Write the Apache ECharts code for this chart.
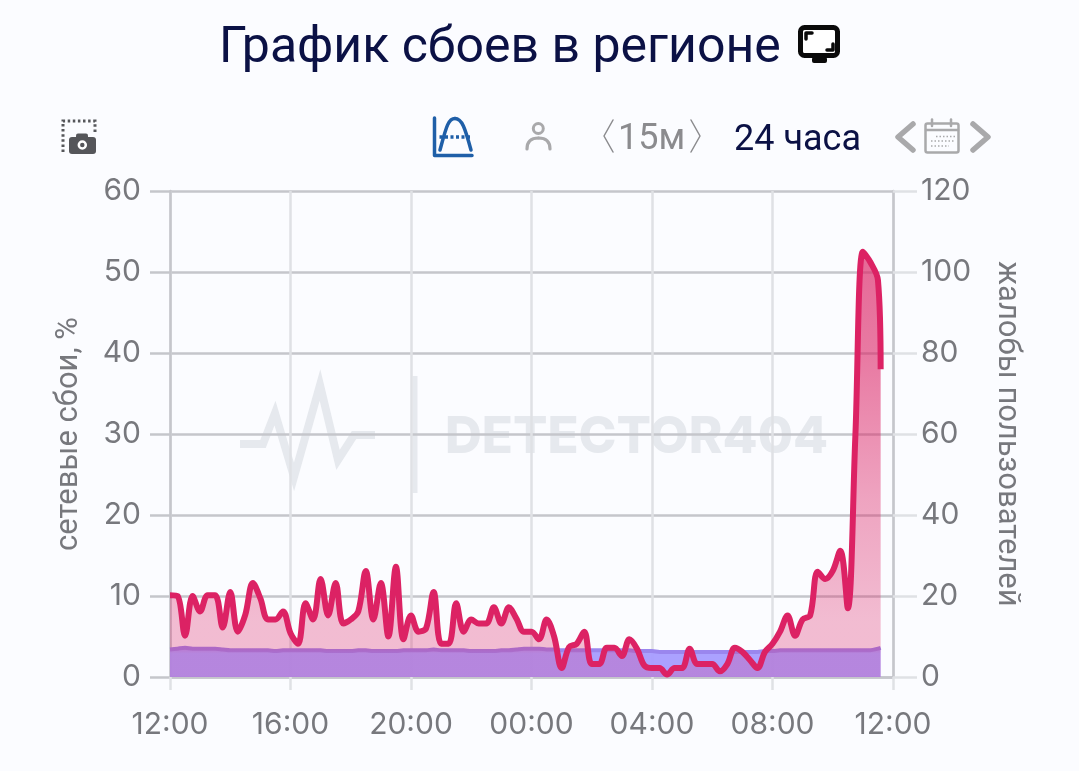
<!DOCTYPE html>
<html>
<head>
<meta charset="utf-8">
<style>
html,body{margin:0;padding:0;background:#fbfcff;}
#chartmain{width:1079px;height:771px;}
</style>
<script src="https://cdn.jsdelivr.net/npm/echarts@6/dist/echarts.min.js"></script>
</head>
<body>
<div id="chartmain"></div>
<script>
// подписи оси времени, 12:00 -> 12:00 через 4 часа
var tickLabels = ['12:00','16:00','20:00','00:00','04:00','08:00','12:00'];

// отсчеты идут каждые 15 минут от 12:00, последний чуть раньше (11:35)
var faults = [
  10.1,10.0,5.1,10.0,8.1,10.1,10.1,6.1,10.5,5.6,
  7.7,11.6,9.7,7.1,7.1,8.1,5.4,4.1,9.1,7.1,
  12.1,7.6,11.6,6.6,7.1,8.1,13.1,7.1,11.6,5.0,
  13.6,4.65,7.6,5.6,6.0,10.5,4.1,4.1,9.1,5.6,
  7.1,6.6,6.6,8.6,6.6,8.6,7.2,5.6,5.6,4.65,
  7.1,5.0,1.1,3.7,4.1,5.6,1.6,1.6,3.6,3.6,
  2.6,4.65,3.5,1.4,1.1,1.1,0.3,1.1,1.1,3.5,
  1.6,1.6,1.6,0.7,1.6,3.6,3.1,2.1,1.1,3.1,
  4.1,5.6,7.6,5.1,7.1,7.6,13.0,12.1,13.1,15.6,
  8.5,29.7,52.5,51.2,49.0,38.0
];
var reports = [
  3.4,3.5,3.6,3.5,3.5,3.5,3.5,3.4,3.3,3.3,
  3.3,3.3,3.3,3.3,3.2,3.3,3.3,3.3,3.3,3.3,
  3.3,3.2,3.2,3.2,3.2,3.3,3.3,3.2,3.2,3.2,
  3.2,3.3,3.3,3.3,3.3,3.4,3.3,3.3,3.3,3.3,
  3.2,3.2,3.2,3.2,3.3,3.3,3.4,3.5,3.5,3.5,
  3.4,3.4,3.3,3.3,3.3,3.3,3.3,3.3,3.3,3.3,
  3.3,3.3,3.2,3.2,3.2,3.1,3.1,3.1,3.1,3.1,
  3.1,3.1,3.1,3.1,3.1,3.1,3.1,3.1,3.1,3.2,
  3.2,3.3,3.3,3.3,3.3,3.3,3.3,3.3,3.3,3.3,
  3.3,3.3,3.3,3.3,3.5,3.6
];

var hours = [];
for(var i=0;i<95;i++){ hours.push(i*0.25); }
hours.push(23.59);

function pairs(values){
  return values.map(function(v,i){ return [hours[i],v]; });
}

var gridColor = '#c5c6cb';
var vGridColor = '#dfe1e5';
var labelColor = '#77787d';
var navy = '#0b1145';
var greyIcon = '#a9a9ab';
var blueIcon = '#1f5fa8';
var darkIcon = '#55565a';
var markColor = '#e6e9ee';

function line(points,color,width,dash){
  return {
    type:'polyline',
    shape:{points:points},
    style:{fill:null,stroke:color,lineWidth:width,lineDash:dash||null,lineCap:'round',lineJoin:'round'}
  };
}
function dots(points,color,width,dash){
  return {
    type:'polyline',
    shape:{points:points},
    style:{fill:null,stroke:color,lineWidth:width,lineDash:dash,lineCap:'butt'}
  };
}
function curve(x1,y1,cx1,cy1,cx2,cy2,x2,y2,color,width){
  return {
    type:'bezierCurve',
    shape:{x1:x1,y1:y1,x2:x2,y2:y2,cpx1:cx1,cpy1:cy1,cpx2:cx2,cpy2:cy2},
    style:{fill:null,stroke:color,lineWidth:width,lineCap:'round'}
  };
}
function label(text,x,y,size,color,family){
  return {
    type:'text',
    x:x,y:y,
    style:{text:text,fontSize:size,fill:color,fontFamily:family||'Roboto',textVerticalAlign:'middle'}
  };
}

// все мелкие значки над графиком
var decorations = [
  // водяной знак
  {type:'polyline',z:-5,shape:{points:[[240,444],[263,444],[275,413],[294,477],[320,385],[338,460],[354,435],[375,435]]},
    style:{fill:null,stroke:markColor,lineWidth:8,lineJoin:'miter'}},
  {type:'polyline',z:-5,shape:{points:[[415,376],[415,493]]},style:{fill:null,stroke:markColor,lineWidth:5}},
  {type:'text',z:-5,x:445,y:438,style:{text:'DETECTOR404',fontSize:51,fontWeight:800,fill:markColor,fontFamily:'Inter',textVerticalAlign:'middle'}},
  // монитор у заголовка
  {type:'rect',shape:{x:800.5,y:27.5,width:37,height:28,r:4},style:{fill:'#fff',stroke:'#0a0a0a',lineWidth:5}},
  {type:'rect',shape:{x:812,y:57,width:15,height:6,r:2},style:{fill:'#0a0a0a'}},
  line([[806,39],[806,33],[812,33]],'#0a0a0a',3.5),
  line([[833,44],[833,50],[827,50]],'#0a0a0a',3.5),
  // снимок экрана
  dots([[63,152],[63,121],[95,121],[95,132]],darkIcon,3,[2.5,2.6]),
  {type:'rect',shape:{x:69,y:137,width:27,height:17,r:3},style:{fill:darkIcon}},
  {type:'rect',shape:{x:76,y:133.5,width:12,height:6,r:2},style:{fill:darkIcon}},
  {type:'circle',shape:{cx:82.3,cy:145,r:3.5},style:{fill:darkIcon,stroke:'#fff',lineWidth:2.5}},
  // значок кривой
  line([[434.5,118],[434.5,155.5],[472,155.5]],blueIcon,3.5),
  curve(440,150,446,128,448,118.5,455,118.5,blueIcon,3.5),
  curve(455,118.5,462,118.5,465,128,471,150,blueIcon,3.5),
  dots([[439.5,137],[472,137]],blueIcon,3.5,[3,2.5]),
  // пользователь
  {type:'circle',shape:{cx:538.3,cy:128.5,r:5},style:{fill:null,stroke:greyIcon,lineWidth:3}},
  curve(527,149,527,141,532,138,538.5,138,greyIcon,3.2),
  curve(538.5,138,545,138,550,141,550,149,greyIcon,3.2),
  // шаг 15м
  line([[613,120],[604,136],[613,152]],'#8b8b8e',1.5),
  line([[691,120],[700,136],[691,152]],'#8b8b8e',1.5),
  label('15м',618,140,36,'#8b8b8e'),
  label('24 часа',734,141,36,navy),
  // календарь и стрелки
  line([[913,124],[898,137],[913,150]],greyIcon,5.5),
  line([[973,124],[988,137],[973,150]],greyIcon,5.5),
  {type:'rect',shape:{x:925.5,y:123.5,width:33,height:29,r:2},style:{fill:'#fbfcff',stroke:greyIcon,lineWidth:2.5}},
  line([[926,130],[958,130]],greyIcon,2.5),
  line([[932,119.5],[932,126]],greyIcon,2.5),
  line([[951,119.5],[951,126]],greyIcon,2.5),
  dots([[936,136.5],[955,136.5]],greyIcon,1.5,[1.5,2]),
  dots([[931,141],[955,141]],greyIcon,1.5,[1.5,2]),
  dots([[931,146],[949,146]],greyIcon,1.5,[1.5,2])
];

var myChart = echarts.init(document.getElementById('chartmain'));
var option = {
  backgroundColor:'#fbfcff',
  animation:false,
  title:{
    text:'График сбоев в регионе',
    left:214,
    top:19,
    textStyle:{fontFamily:'Roboto',fontWeight:400,fontSize:50,color:navy}
  },
  grid:{left:170,right:186,top:191,bottom:94},
  xAxis:{
    type:'value',
    min:0,
    max:24,
    interval:4,
    axisLine:{lineStyle:{color:gridColor,width:2.5}},
    axisTick:{show:true,length:13,lineStyle:{color:vGridColor,width:2.5}},
    axisLabel:{
      margin:33,
      fontFamily:'Inter',
      fontSize:30,
      color:labelColor,
      formatter:function(v){ return tickLabels[v/4]; }
    },
    splitLine:{show:true,lineStyle:{color:vGridColor,width:2.5}}
  },
  yAxis:[
    {
      type:'value',
      min:0,
      max:60,
      interval:10,
      name:'сетевые сбои, %',
      nameLocation:'middle',
      nameGap:85,
      nameTextStyle:{fontFamily:'Roboto',fontSize:31,color:labelColor},
      axisLine:{show:true,lineStyle:{color:gridColor,width:2.5}},
      axisTick:{show:true,length:20,lineStyle:{color:gridColor,width:2.5}},
      axisLabel:{margin:29,padding:[6,0,0,0],fontFamily:'Inter',fontSize:30,color:labelColor},
      splitLine:{show:true,lineStyle:{color:gridColor,width:2.5}}
    },
    {
      type:'value',
      min:0,
      max:120,
      interval:20,
      name:'жалобы пользователей',
      nameLocation:'middle',
      nameGap:98,
      nameRotate:-90,
      nameTextStyle:{fontFamily:'Roboto',fontSize:31,color:labelColor},
      axisLine:{show:true,lineStyle:{color:gridColor,width:2.5}},
      axisTick:{show:true,length:24,lineStyle:{color:vGridColor,width:2.5}},
      axisLabel:{margin:28,padding:[6,0,0,0],fontFamily:'Inter',fontSize:30,color:labelColor},
      splitLine:{show:false}
    }
  ],
  series:[
    {
      name:'жалобы',
      type:'line',
      data:pairs(reports),
      smooth:0.3,
      showSymbol:false,
      lineStyle:{color:'#9a86ee',width:4},
      areaStyle:{color:'#a69cff',opacity:0.95},
      z:2
    },
    {
      name:'сбои',
      type:'line',
      data:pairs(faults),
      smooth:0.35,
      showSymbol:false,
      lineStyle:{color:'#dc2264',width:6},
      areaStyle:{
        color:new echarts.graphic.LinearGradient(0,0,0,1,[
          {offset:0,color:'rgba(220,34,100,0.97)'},
          {offset:0.25,color:'rgba(220,34,100,0.85)'},
          {offset:0.58,color:'rgba(220,34,100,0.58)'},
          {offset:0.87,color:'rgba(220,34,100,0.42)'},
          {offset:0.935,color:'rgba(220,34,100,0.42)'},
          {offset:0.945,color:'rgba(220,34,100,0.3)'},
          {offset:1,color:'rgba(220,34,100,0.3)'}
        ])
      },
      z:3
    }
  ],
  graphic:decorations
};
myChart.setOption(option);
</script>
</body>
</html>
